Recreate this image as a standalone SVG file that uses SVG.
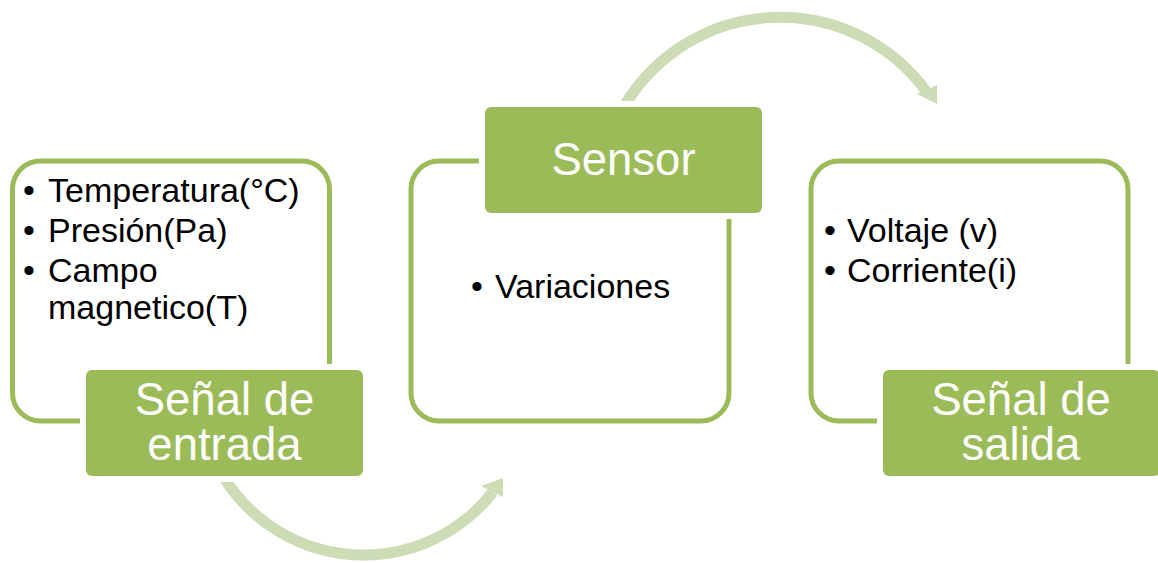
<svg xmlns="http://www.w3.org/2000/svg" width="1158" height="563" viewBox="0 0 1158 563">
<style>
.outer{fill:#ffffff;stroke:#9bbb59;stroke-width:5}
.gap{fill:#ffffff}
.label{fill:#9bbb59}
.lt{font-family:"Liberation Sans",Arial,sans-serif;font-size:45.5px;fill:#ffffff;text-anchor:middle}
.bt{font-family:"Liberation Sans",Arial,sans-serif;font-size:34px;fill:#000000}
.arc{fill:none;stroke:#cddcb5;stroke-width:11}
.head{fill:#cddcb5}
</style>
<rect width="1158" height="563" fill="#ffffff"/>
<g id="connectors">
<path class="arc" d="M219.6,470 A164.4,164.4 0 0 0 493,492"/>
<polygon class="head" points="503,478 481,486 503,497"/>
<path class="arc" d="M621,112 A181,181 0 0 1 926,91"/>
<polygon class="head" points="937,104 917,94 937,85"/>
</g>
<g id="node-entrada">
<rect class="outer" x="12.5" y="161" width="317" height="260" rx="28"/>
<text class="bt" x="23" y="202">•</text><text class="bt" x="48" y="202">Temperatura(°C)</text>
<text class="bt" x="23" y="242">•</text><text class="bt" x="48" y="242">Presión(Pa)</text>
<text class="bt" x="23" y="282">•</text><text class="bt" x="48" y="282">Campo</text>
<text class="bt" x="48" y="319">magnetico(T)</text>
<rect class="gap" x="80" y="364" width="289" height="118" rx="10"/>
<rect class="label" x="86" y="370" width="277" height="106" rx="6"/>
<text class="lt" x="224.5" y="415">Señal de</text>
<text class="lt" x="224.5" y="460">entrada</text>
</g>
<g id="node-sensor">
<rect class="outer" x="411" y="161" width="318" height="260" rx="28"/>
<text class="bt" x="471" y="298">•</text><text class="bt" x="495" y="298">Variaciones</text>
<rect class="gap" x="479" y="101" width="289" height="118" rx="10"/>
<rect class="label" x="485" y="107" width="277" height="106" rx="6"/>
<text class="lt" x="623.5" y="175">Sensor</text>
</g>
<g id="node-salida">
<rect class="outer" x="811" y="161" width="317" height="260" rx="28"/>
<text class="bt" x="824" y="242">•</text><text class="bt" x="847" y="242">Voltaje (v)</text>
<text class="bt" x="824" y="282">•</text><text class="bt" x="847" y="282">Corriente(i)</text>
<rect class="gap" x="877" y="364" width="289" height="118" rx="10"/>
<rect class="label" x="883" y="370" width="277" height="106" rx="6"/>
<text class="lt" x="1021" y="415">Señal de</text>
<text class="lt" x="1021" y="460">salida</text>
</g>
</svg>
